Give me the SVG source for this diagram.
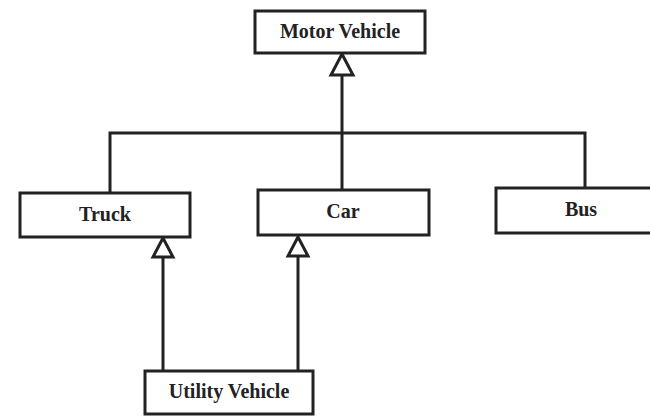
<svg xmlns="http://www.w3.org/2000/svg" width="650" height="420" viewBox="0 0 650 420">
<style>
.box{fill:#fff;stroke:#222;stroke-width:3}
.lbl{font-family:"Liberation Serif","Times New Roman",serif;font-size:20px;font-weight:bold;fill:#222;text-anchor:middle}
.ln{fill:none;stroke:#222;stroke-width:3}
.tri{fill:#fff;stroke:#222;stroke-width:3;stroke-linejoin:miter}
</style>
<rect width="650" height="420" fill="#fff"/>
<g id="connectors">
<polyline class="ln" points="110,193 110,133 585,133 585,188"/>
<line class="ln" x1="342" y1="75" x2="342" y2="190"/>
<polygon class="tri" points="342,54 331,75 353,75"/>
<line class="ln" x1="163" y1="371" x2="163" y2="257"/>
<polygon class="tri" points="163,238 153,257 173,257"/>
<line class="ln" x1="298" y1="371" x2="298" y2="256"/>
<polygon class="tri" points="298,237 288,256 308,256"/>
</g>
<g id="motor-vehicle">
<rect class="box" x="255" y="11" width="170" height="42"/>
<text class="lbl" x="340" y="38">Motor Vehicle</text>
</g>
<g id="truck">
<rect class="box" x="20" y="193" width="170" height="44"/>
<text class="lbl" x="105" y="221">Truck</text>
</g>
<g id="car">
<rect class="box" x="258" y="190" width="171" height="45"/>
<text class="lbl" x="343" y="218">Car</text>
</g>
<g id="bus">
<rect class="box" x="496" y="188" width="170" height="45"/>
<text class="lbl" x="581" y="216">Bus</text>
</g>
<g id="utility-vehicle">
<rect class="box" x="145" y="371" width="168" height="43"/>
<text class="lbl" x="229" y="398">Utility Vehicle</text>
</g>
</svg>
